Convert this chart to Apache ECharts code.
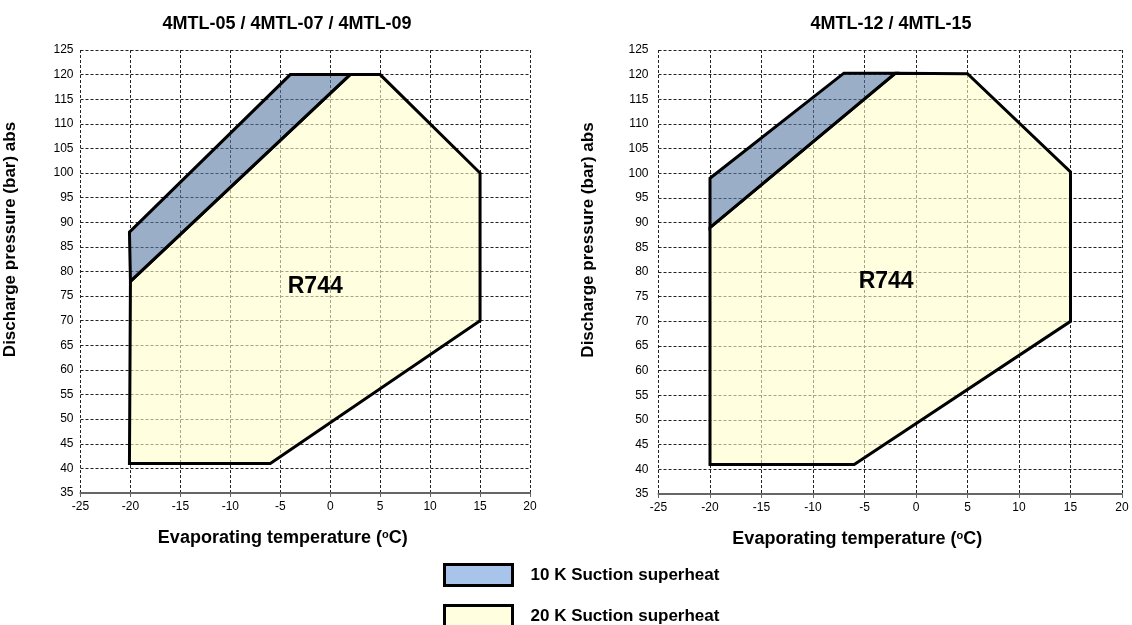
<!DOCTYPE html>
<html><head><meta charset="utf-8">
<script src="https://cdn.jsdelivr.net/npm/echarts@6/dist/echarts.min.js"></script>
<style>html,body{margin:0;padding:0;background:#fff}#c{width:1132px;height:625px}</style>
</head><body><div id="c"></div>
<script>
// ---- data ----
const titles = ['4MTL-05 / 4MTL-07 / 4MTL-09', '4MTL-12 / 4MTL-15'];
const seriesNames = ['10 K Suction superheat', '20 K Suction superheat'];
// left chart polygons [evap temp, discharge pressure]
const left10K = [[-20.1, 88], [-4, 120], [2, 120], [-20, 78]];
const left20K = [[-20, 78], [2, 120], [5, 120], [15, 100], [15, 70], [-6, 41], [-20.1, 41]];
// right chart polygons
const right10K = [[-20, 99], [-7, 120.3], [-2, 120.3], [-20, 89]];
const right20K = [[-20, 89], [-2, 120.3], [5, 120.2], [15, 100.3], [15, 70], [-6, 41], [-20, 41]];
const labelLeft = [[-1.5, 77]];
const labelRight = [[-2.9, 78]];
const xTicks = {min: -25, max: 20, interval: 5};
const yTicks = {min: 35, max: 125, interval: 5};

const fills = ['rgba(87,120,163,0.6)', 'rgba(255,255,204,0.6)'];
const legendFills = ['#A9C4EA', '#FFFFE0'];
const FONT = 'Liberation Sans';

function poly(name, data, idx, fill) {
  return {
    type: 'custom', name: name, xAxisIndex: idx, yAxisIndex: idx,
    data: data, encode: {x: 0, y: 1}, itemStyle: {color: fill},
    renderItem: function (params, api) {
      if (params.dataIndex !== 0) return null;
      const pts = data.map(p => api.coord(p));
      return {type: 'polygon', shape: {points: pts},
        style: {fill: fill, stroke: '#000', lineWidth: 3, lineJoin: 'miter'}};
    }
  };
}
function label(data, idx) {
  return {type: 'scatter', xAxisIndex: idx, yAxisIndex: idx, data: data, symbolSize: 0, silent: true, z: 5,
    itemStyle: {color: '#000', opacity: 1},
    label: {show: true, position: 'inside', formatter: 'R744', fontSize: 23, fontWeight: 'bold', color: '#000',
      opacity: 1, textBorderWidth: 0, textBorderColor: 'transparent', fontFamily: FONT}};
}
const grids = [
  {left: 80.5, right: 602, top: 50, bottom: 132},
  {left: 658.5, right: 10, top: 50, bottom: 131}
];
const xNamePad = [45, 66];
function xAxis(i) {
  return {type: 'value', gridIndex: i, min: xTicks.min, max: xTicks.max, interval: xTicks.interval,
    name: '{a|Evaporating temperature (}{s|o}{a|C)}', nameLocation: 'middle', nameGap: 36,
    nameTextStyle: {padding: [0, xNamePad[i], 0, 0], rich: {
      a: {fontSize: 18, fontWeight: 'bold', color: '#000', fontFamily: FONT},
      s: {fontSize: 11, fontWeight: 'bold', color: '#000', fontFamily: FONT, verticalAlign: 'top'}}},
    axisLine: {show: true, onZero: false, lineStyle: {color: '#666', width: 2}},
    axisTick: {show: true, length: 4, lineStyle: {color: '#666'}},
    axisLabel: {fontSize: 12, color: '#000', margin: 8, fontFamily: FONT},
    splitLine: {show: true, lineStyle: {color: '#222', width: 1, type: [3, 2]}}
  };
}
function yAxis(i) {
  return {type: 'value', gridIndex: i, min: yTicks.min, max: yTicks.max, interval: yTicks.interval,
    name: 'Discharge pressure (bar) abs', nameLocation: 'middle', nameGap: 62,
    nameTextStyle: {fontSize: 17, fontWeight: 'bold', color: '#000', fontFamily: FONT, padding: [0, 0, 0, 64]},
    axisLine: {show: false},
    axisTick: {show: true, length: 3, lineStyle: {color: '#666'}},
    axisLabel: {fontSize: 12, color: '#000', margin: i === 0 ? 7 : 10, fontFamily: FONT},
    splitLine: {show: true, lineStyle: {color: '#222', width: 1, type: [3, 2]}}
  };
}
function legend(k, top) {
  return {
    left: 443, top: top, itemWidth: 68, itemHeight: 21, icon: 'rect', selectedMode: false, padding: 0,
    data: [{name: seriesNames[k], itemStyle: {color: legendFills[k], borderColor: '#000', borderWidth: 3}}],
    textStyle: {fontSize: 17, fontWeight: 'bold', color: '#000', fontFamily: FONT, padding: [3, 0, 0, 13]}
  };
}
const option = {
  animation: false,
  title: [
    {text: titles[0], left: 282, top: 10, textAlign: 'center', textStyle: {fontSize: 18, fontWeight: 'bold', color: '#000', fontFamily: FONT}},
    {text: titles[1], left: 886, top: 10, textAlign: 'center', textStyle: {fontSize: 18, fontWeight: 'bold', color: '#000', fontFamily: FONT}}
  ],
  legend: [legend(0, 563), legend(1, 604)],
  grid: grids,
  xAxis: [xAxis(0), xAxis(1)],
  yAxis: [yAxis(0), yAxis(1)],
  series: [
    poly(seriesNames[1], left20K, 0, fills[1]),
    poly(seriesNames[0], left10K, 0, fills[0]),
    poly(seriesNames[1], right20K, 1, fills[1]),
    poly(seriesNames[0], right10K, 1, fills[0]),
    label(labelLeft, 0),
    label(labelRight, 1)
  ]
};
const chart = echarts.init(document.getElementById('c'), null, {renderer: 'canvas'});
chart.setOption(option);
</script></body></html>
